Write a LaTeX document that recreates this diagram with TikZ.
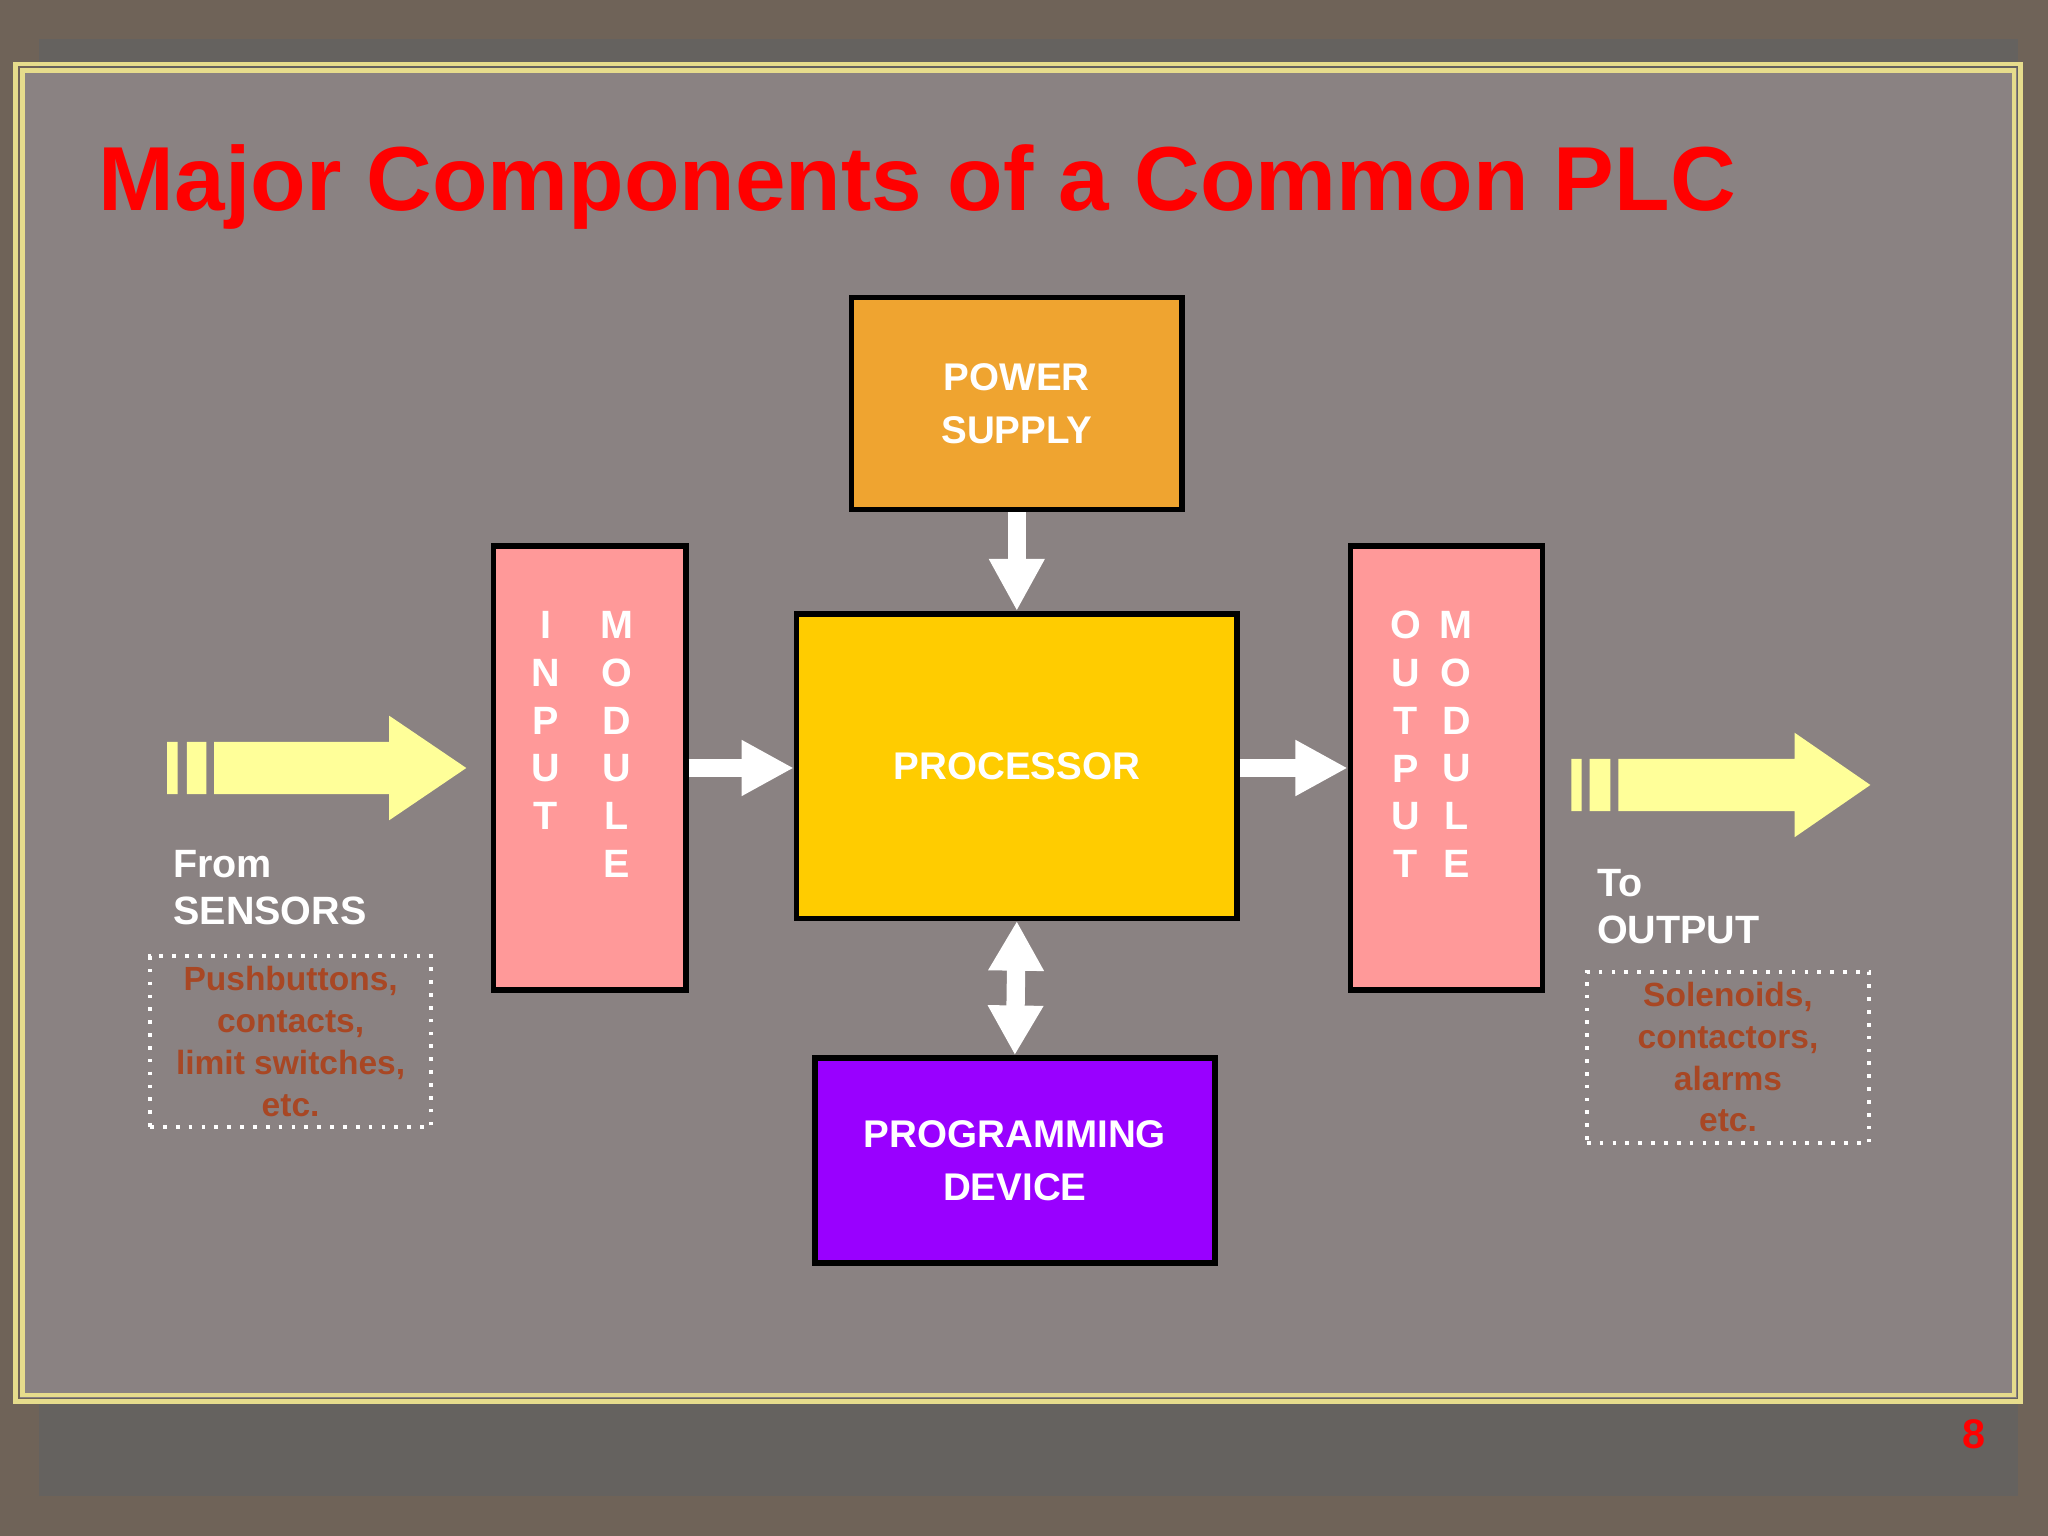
\documentclass[tikz,border=0pt]{standalone}
\usepackage{fontspec}
\setmainfont{Liberation Sans}
\usetikzlibrary{arrows.meta}
\begin{document}
\begin{tikzpicture}[x=0.01cm,y=-0.01cm,
 box/.style={draw=black,line width=1.2pt,inner sep=0pt,font=\bfseries\fontsize{8.4}{11.5}\selectfont,text=white,align=center},
 wa/.style={draw=white,line width=0.14cm,-{Triangle[width=0.4cm,length=0.4cm]}},
 wb/.style={draw=white,line width=0.14cm,{Triangle[width=0.4cm,length=0.38cm]}-{Triangle[width=0.4cm,length=0.38cm]}},
 let/.style={text=white,font=\bfseries\fontsize{8.6}{12}\selectfont,anchor=center},
 note/.style={draw=white,dotted,line width=0.8pt,text=brown!70!red!80!black,font=\bfseries\fontsize{7.3}{9.1}\selectfont,align=center,inner sep=0pt},
 lab/.style={text=white,font=\bfseries\fontsize{8.6}{10.3}\selectfont,align=left,anchor=north west,inner sep=0pt}]
\useasboundingbox (0,0) rectangle (1568,1176);
\fill[black!55!brown!40!gray] (0,0) rectangle (1568,1176);
\fill[gray!85!brown!60!white!55!black] (30,30) rectangle (1545,1145);
\fill[color={rgb,255:red,138;green,130;blue,130}] (15,52) rectangle (1544,1070);
\draw[color={rgb,255:red,230;green,220;blue,140},line width=1pt] (12,49) rectangle (1547,1073);
\draw[color={rgb,255:red,230;green,220;blue,140},line width=1pt] (17,54) rectangle (1542,1068);
\node[anchor=west,text=red,font=\bfseries\fontsize{19.8}{24}\selectfont,inner sep=0pt] (title) at (75,143) {Major Components of a Common PLC};
\node[box,fill={rgb,255:red,239;green,164;blue,48},minimum width=2.53cm,minimum height=1.62cm] (ps) at (778.5,309) {POWER\\SUPPLY};
\node[box,fill={rgb,255:red,255;green,204;blue,0},minimum width=3.37cm,minimum height=2.33cm] (proc) at (778.5,586.5) {PROCESSOR};
\node[box,fill={rgb,255:red,255;green,153;blue,153},minimum width=1.47cm,minimum height=3.4cm] (in) at (451.5,588) {};
\node[box,fill={rgb,255:red,255;green,153;blue,153},minimum width=1.47cm,minimum height=3.4cm] (out) at (1107.5,588) {};
\node[box,fill={rgb,255:red,153;green,0;blue,255},minimum width=3.06cm,minimum height=1.57cm] (pd) at (777,888.5) {PROGRAMMING\\DEVICE};
\foreach \l [count=\i] in {I,N,P,U,T} \node[let] (i\i) at (418,442+36.6*\i) {\l};
\foreach \l [count=\i] in {M,O,D,U,L,E} \node[let] (m\i) at (472,442+36.6*\i) {\l};
\foreach \l [count=\i] in {O,U,T,P,U,T} \node[let] (o\i) at (1076,442+36.6*\i) {\l};
\foreach \l [count=\i] in {M,O,D,U,L,E} \node[let] (n\i) at (1115,442+36.6*\i) {\l};
\draw[wa] (ps.south) -- (proc.north);
\draw[wb] (proc.south) -- (pd.north);
\draw[wa] (in.east |- 0,588) -- (proc.west |- 0,588);
\draw[wa] (proc.east |- 0,588) -- (out.west |- 0,588);
\fill[color={rgb,255:red,255;green,255;blue,153}] (128,568) rectangle (136,608) (143,568) rectangle (158,608)
  (164,568) -- (298,568) -- (298,548) -- (357,588) -- (298,628) -- (298,608) -- (164,608) -- cycle;
\fill[color={rgb,255:red,255;green,255;blue,153}] (1203,581) rectangle (1211,621) (1217,581) rectangle (1233,621)
  (1239,581) -- (1374,581) -- (1374,561) -- (1432,601) -- (1374,641) -- (1374,621) -- (1239,621) -- cycle;
\node[lab] (from) at (132,650) {From\\SENSORS};
\node[lab] (to) at (1222,665) {To\\OUTPUT};
\node[note,minimum width=2.15cm,minimum height=1.31cm] (n1) at (222.5,797.5) {Pushbuttons,\\contacts,\\limit switches,\\etc.};
\node[note,minimum width=2.16cm,minimum height=1.31cm] (n2) at (1323,809.5) {Solenoids,\\contactors,\\alarms\\etc.};
\node[text=red,font=\bfseries\fontsize{9}{10}\selectfont] (pg) at (1511,1098) {8};
\end{tikzpicture}
\end{document}
